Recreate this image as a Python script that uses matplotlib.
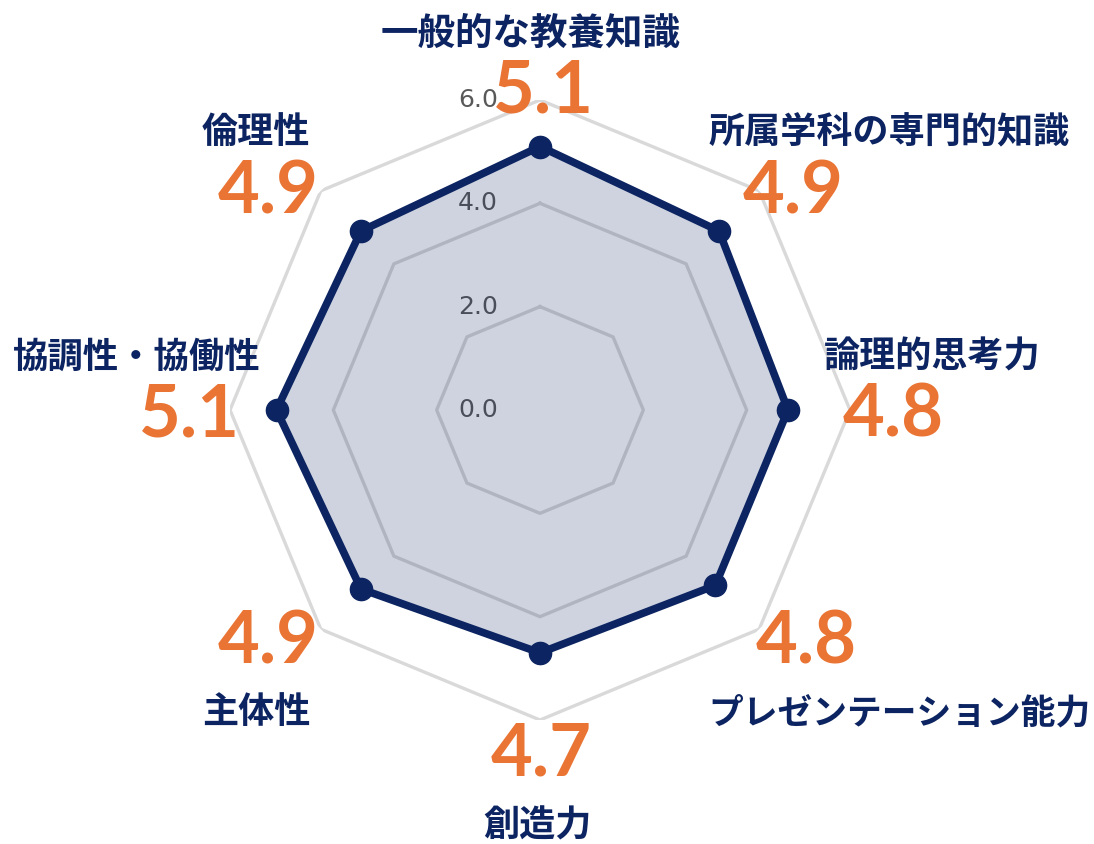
import numpy as np
import matplotlib.pyplot as plt
from matplotlib.transforms import offset_copy

plt.rcParams['font.family'] = ['Noto Sans CJK JP', 'DejaVu Sans']

# chart data
categories = ['一般的な教養知識', '所属学科の専門的知識', '論理的思考力', 'プレゼンテーション能力',
              '創造力', '主体性', '協調性・協働性', '倫理性']
scores = [5.1, 4.9, 4.8, 4.8, 4.7, 4.9, 5.1, 4.9]
ring_values = [2, 4, 6]
tick_values = [0, 2, 4, 6]
tick_labels = ['0.0', '2.0', '4.0', '6.0']

NAVY = '#0c2461'
ORANGE = '#e97434'

# label placement (figure pixels, from top-left): name centre, value centre
W, H = 1094, 844
name_pos = [(531, 33), (889, 133), (932, 357), (899, 713),
            (538, 826), (256, 712), (137, 357), (256, 133)]
value_pos = [(543, 92), (793, 193), (893, 416), (806, 643),
             (541, 755), (268, 643), (189, 416), (268, 193)]
name_size = [27, 26, 26, 25, 26, 26, 25.5, 26]

fig = plt.figure(figsize=(W / 100, H / 100), dpi=100)
cx, cy, R = 540, 410, 310
ax = fig.add_axes([(cx - R) / W, (H - cy - R) / H, 2 * R / W, 2 * R / H],
                  projection='polar')
ax.set_theta_zero_location('N')
ax.set_theta_direction(-1)
ax.set_ylim(0, 6)
ax.axis('off')

n = len(categories)
angles = np.linspace(0, 2 * np.pi, n, endpoint=False)
closed = np.append(angles, angles[0])

# octagon rings
for rv in ring_values:
    ax.plot(closed, [rv] * (n + 1), color='#d9d9d9', lw=2.4, zorder=1)

# tick labels just left of the top spoke
tr = offset_copy(ax.transData, fig=fig, x=-42, y=0, units='dots')
for tv, tl in zip(tick_values, tick_labels):
    ax.text(0, tv, tl, transform=tr, ha='right', va='center',
            fontsize=18, color='#595959', family='DejaVu Sans', zorder=2)

vals = np.append(scores, scores[0])
ax.fill(closed, vals, color=NAVY, alpha=0.2, lw=0, zorder=3)
ax.plot(closed, vals, color=NAVY, lw=5.5, zorder=4, solid_joinstyle='miter')
ax.plot(angles, scores, 'o', color=NAVY, ms=16, zorder=5)

for name, v, (nx, ny), (vx, vy), fs in zip(categories, scores, name_pos, value_pos, name_size):
    fig.text(nx / W, 1 - ny / H, name, ha='center', va='center',
             fontsize=fs, fontweight='bold', color=NAVY)
    fig.text(vx / W, 1 - vy / H, f'{v:.1f}', ha='center', va='center',
             fontsize=52, fontweight='bold', color=ORANGE, family='Lato', zorder=6)

fig.savefig('out.png', dpi=100)
